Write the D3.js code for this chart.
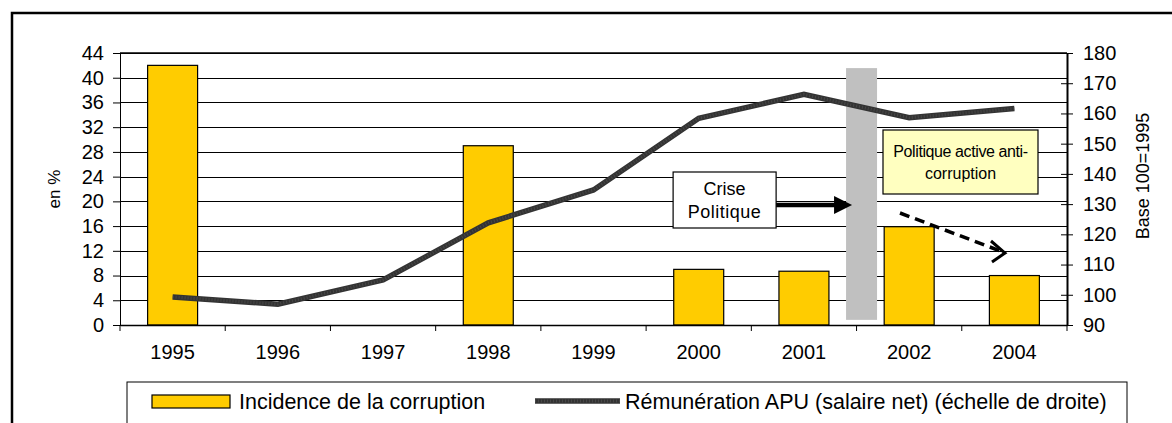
<!DOCTYPE html>
<html><head><meta charset="utf-8">
<script src="https://cdn.jsdelivr.net/npm/d3@7"></script>
<style>body{margin:0;background:#fff}svg{display:block}text{font-family:"Liberation Sans",Arial,sans-serif;fill:#000}</style>
</head><body>
<svg id="c" width="1172" height="423"></svg>
<script>
const categories = ["1995","1996","1997","1998","1999","2000","2001","2002","2004"];
const corruption = [42, null, null, 29, null, 9, 8.7, 15.9, 8];
const remuneration = [99.3, 96.9, 104.9, 123.8, 134.7, 158.4, 166.3, 158.6, 161.6];
const leftTicks = [0,4,8,12,16,20,24,28,32,36,40,44];
const rightTicks = [90,100,110,120,130,140,150,160,170,180];
const seriesNames = ["Incidence de la corruption","Rémunération APU (salaire net) (échelle de droite)"];

const svg = d3.select("#c");
const L=120,R=1067,T=53,B=325;
const x = d3.scaleBand().domain(categories).range([L,R]).padding(0);
const yL = d3.scaleLinear().domain([0,44]).range([B,T]);
const yR = d3.scaleLinear().domain([90,180]).range([B,T]);
const bw = x.bandwidth(), barW = bw*0.475;

// outer frame
svg.append("rect").attr("x",12).attr("y",13).attr("width",1200).attr("height",440)
  .attr("fill","none").attr("stroke","#000").attr("stroke-width",2.5);

// gridlines
svg.append("g").selectAll("line").data(leftTicks).join("line")
  .attr("x1",L).attr("x2",R).attr("y1",d=>Math.round(yL(d))+0.5).attr("y2",d=>Math.round(yL(d))+0.5)
  .attr("stroke","#000").attr("stroke-width",1);

// plot frame top
svg.append("line").attr("x1",L).attr("x2",R).attr("y1",T).attr("y2",T).attr("stroke","#000").attr("stroke-width",1.5);

// bars
svg.append("g").selectAll("rect").data(categories.map((c,i)=>({c,v:corruption[i]})).filter(d=>d.v!=null)).join("rect")
  .attr("x",d=>x(d.c)+(bw-barW)/2).attr("width",barW)
  .attr("y",d=>yL(d.v)).attr("height",d=>yL(0)-yL(d.v))
  .attr("fill","#FFCC00").attr("stroke","#000").attr("stroke-width",1.2);

// gray vertical band (annotation)
const gx = x("2002")-10.5;
svg.append("rect").attr("x",gx).attr("width",31).attr("y",yR(175)).attr("height",yR(91.7)-yR(175)).attr("fill","#C0C0C0");

// line
const line = d3.line().x((d,i)=>x(categories[i])+bw/2).y(d=>yR(d));
svg.append("path").datum(remuneration).attr("d",line).attr("fill","none")
  .attr("stroke","#333").attr("stroke-width",5.5).attr("stroke-linejoin","miter");
svg.append("path").datum(remuneration).attr("d",line).attr("fill","none")
  .attr("stroke","#555").attr("stroke-width",3).attr("stroke-dasharray","1 2").attr("opacity",0.6);

// axes
const axL = d3.axisLeft(yL).tickValues(leftTicks).tickSize(7).tickSizeOuter(0);
const gL = svg.append("g").attr("transform",`translate(${L},0)`).call(axL);
const axR = d3.axisRight(yR).tickValues(rightTicks).tickSize(6).tickSizeOuter(0);
const gR = svg.append("g").attr("transform",`translate(${R},0)`).call(axR);
gR.selectAll(".tick line").attr("x1",-6);
gR.select(".domain").attr("stroke-width",2);
const axB = d3.axisBottom(x).tickSize(0).tickSizeOuter(0);
const gB = svg.append("g").attr("transform",`translate(0,${B})`).call(axB);
[gL,gR,gB].forEach(g=>{g.selectAll("text").attr("font-size",20).attr("font-family","Liberation Sans, Arial, sans-serif").attr("fill","#000");g.selectAll("line,path").attr("stroke","#000");});
gL.selectAll(".tick text").attr("x",-16);
gR.selectAll(".tick text").attr("x",16);
gB.selectAll(".tick text").attr("dy","1.55em");
gB.select(".domain").attr("stroke-width",1.5);
// category boundary ticks
svg.append("g").selectAll("line").data(categories.concat(["end"])).join("line")
  .attr("x1",(d,i)=>L+i*bw).attr("x2",(d,i)=>L+i*bw).attr("y1",B).attr("y2",B+6).attr("stroke","#000").attr("stroke-width",1);

// axis titles
svg.append("text").attr("transform",`translate(60,189) rotate(-90)`).attr("text-anchor","middle").attr("font-size",17).text("en %");
svg.append("text").attr("transform",`translate(1149,176) rotate(-90)`).attr("text-anchor","middle").attr("font-size",18).text("Base 100=1995");

// annotation: Crise Politique
const cb = {x:x("2000")+27, y:172, w:103, h:56};
svg.append("rect").attr("x",cb.x).attr("y",cb.y).attr("width",cb.w).attr("height",cb.h).attr("fill","#fff").attr("stroke","#000").attr("stroke-width",1.2);
svg.append("text").attr("x",cb.x+cb.w/2).attr("y",195).attr("text-anchor","middle").attr("font-size",18).text("Crise");
svg.append("text").attr("x",cb.x+cb.w/2).attr("y",218).attr("text-anchor","middle").attr("font-size",18).attr("letter-spacing",0.5).text("Politique");
svg.append("line").attr("x1",cb.x+cb.w).attr("x2",gx-8).attr("y1",205).attr("y2",205).attr("stroke","#000").attr("stroke-width",4.5);
svg.append("path").attr("d",`M${gx-12},196 L${gx+6},205 L${gx-12},214 Z`).attr("fill","#000");

// annotation: Politique active anti-corruption
const pb = {x:883, y:130, w:155, h:64};
svg.append("rect").attr("x",pb.x).attr("y",pb.y).attr("width",pb.w).attr("height",pb.h).attr("fill","#FFFFC0").attr("stroke","#000").attr("stroke-width",1.2);
svg.append("text").attr("x",pb.x+pb.w/2).attr("y",157).attr("text-anchor","middle").attr("font-size",16).attr("letter-spacing",-0.4).text("Politique active anti-");
svg.append("text").attr("x",pb.x+pb.w/2).attr("y",179).attr("text-anchor","middle").attr("font-size",16).text("corruption");
svg.append("line").attr("x1",900).attr("y1",213).attr("x2",1003).attr("y2",252).attr("stroke","#000").attr("stroke-width",3.5).attr("stroke-dasharray","10 6");
svg.append("path").attr("d","M991,241 L1005,253 L992,262").attr("fill","none").attr("stroke","#000").attr("stroke-width",3);

// legend
svg.append("rect").attr("x",127).attr("y",382).attr("width",1000).attr("height",60).attr("fill","#fff").attr("stroke","#000").attr("stroke-width",1);
svg.append("rect").attr("x",152).attr("y",395).attr("width",78).attr("height",13).attr("fill","#FFCC00").attr("stroke","#000").attr("stroke-width",1.2);
svg.append("text").attr("x",239).attr("y",409).attr("font-size",21.5).text(seriesNames[0]);
svg.append("line").attr("x1",535).attr("x2",620).attr("y1",401).attr("y2",401).attr("stroke","#333").attr("stroke-width",5.5);
svg.append("line").attr("x1",535).attr("x2",620).attr("y1",401).attr("y2",401).attr("stroke","#555").attr("stroke-width",3).attr("stroke-dasharray","1 2").attr("opacity",0.6);
svg.append("text").attr("x",625).attr("y",409).attr("font-size",21.5).text(seriesNames[1]);
</script>
</body></html>
